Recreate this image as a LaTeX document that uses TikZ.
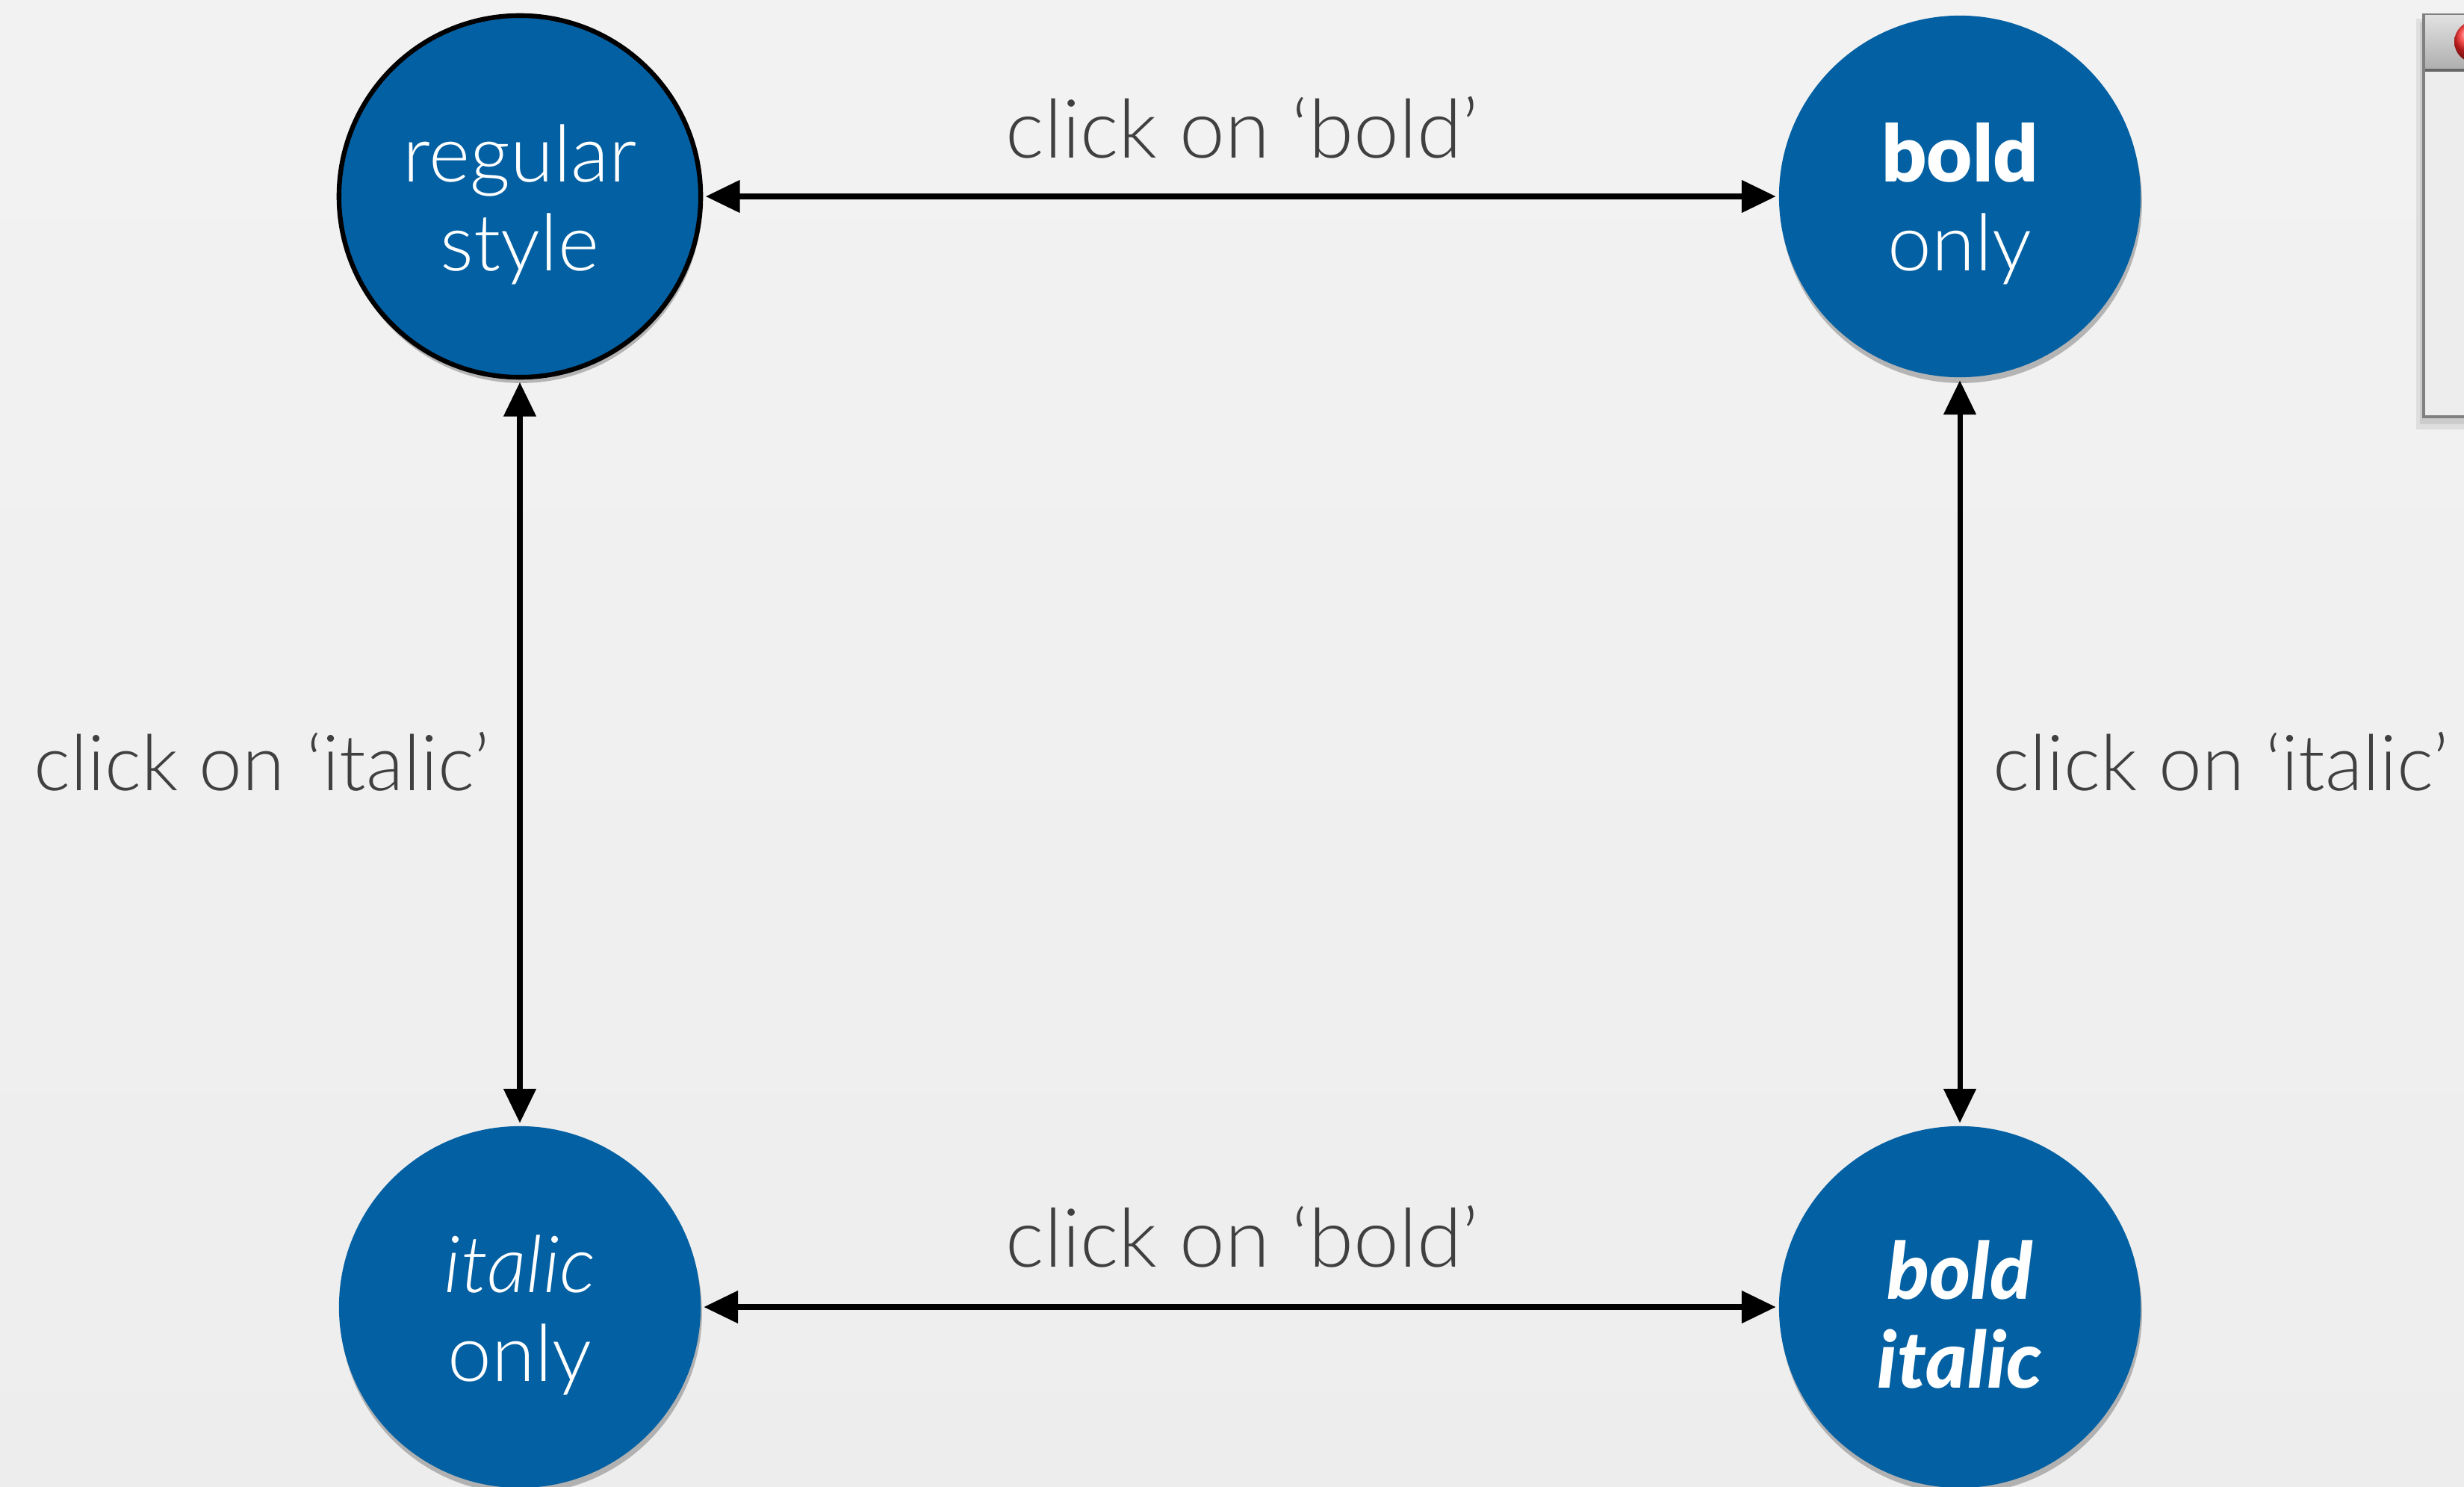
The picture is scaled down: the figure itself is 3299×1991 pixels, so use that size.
\documentclass[tikz,border=0pt]{standalone}
\usepackage{fontspec}
\setmainfont{Lato}[UprightFont={* Light}, ItalicFont={* Light Italic}, BoldFont={* Black}, BoldItalicFont={* Black Italic}]
\usetikzlibrary{arrows.meta,shadows}
\definecolor{nodeblue}{RGB}{3,96,162}
\definecolor{labelgray}{RGB}{64,64,64}
\newcommand{\topstrut}{\rule{0pt}{28pt}}
\begin{document}
\begin{tikzpicture}[x=0.01cm,y=-0.01cm,
  state/.style={circle, fill=nodeblue, minimum size=4.84cm, inner sep=0pt, text=white, align=center,
    font=\fontsize{30}{34}\selectfont,
    drop shadow={shadow xshift=0.5pt, shadow yshift=-2.2pt, opacity=0.25, fill=black}},
  lbl/.style={text=labelgray, font=\fontsize{31}{34}\selectfont, inner sep=0pt},
  ilbl/.style={lbl, font=\fontsize{29.5}{34}\selectfont},
  link/.style={line width=2pt, {Triangle[length=13pt,width=12pt]}-{Triangle[length=13pt,width=12pt]},
    shorten >=1pt, shorten <=1pt}]
\useasboundingbox (0,0) rectangle (3299,1991);
\clip (0,0) rectangle (3299,1991);
% background
\shade[top color=black!5, middle color=black!2, bottom color=black!7] (0,0) rectangle (3299,1991);
% window fragment
\fill[black, opacity=0.08] (3235,25) rectangle (3310,575);
\fill[black, opacity=0.08] (3240,30) rectangle (3310,568);
\draw[black!50, fill=black!7, line width=1pt] (3245,20) rectangle (3320,558);
\shade[top color=black!12, bottom color=black!32] (3246,21) rectangle (3320,94);
\draw[black!60, line width=1.2pt] (3245,94) -- (3320,94);
\draw[black!50, line width=1pt] (3245,20) -- (3245,558);
\shade[ball color=red!85] (3314,56) circle (28);
% states
\node[state, draw=black, line width=1.8pt] (reg) at (696,263) {\topstrut regular\\style};
\node[state] (bold) at (2624,263) {\topstrut\textbf{bold}\\only};
\node[state] (ital) at (696,1750) {\topstrut\textit{italic}\\only};
\node[state] (bi) at (2624,1750) {\topstrut\textbf{\textit{bold}}\\\textbf{\textit{italic}}};
% connectors
\draw[link] (reg) -- (bold);
\draw[link] (ital) -- (bi);
\draw[link] (reg) -- (ital);
\draw[link] (bold) -- (bi);
% labels
\node[lbl, anchor=base] (ltop) at (1663,212) {click on ‘bold’};
\node[lbl, anchor=base] (lbot) at (1663,1696) {click on ‘bold’};
\node[ilbl, anchor=base east] (lleft) at (656,1058) {click on ‘italic’};
\node[ilbl, anchor=base west] (lright) at (2668,1058) {click on ‘italic’};
\end{tikzpicture}
\end{document}
